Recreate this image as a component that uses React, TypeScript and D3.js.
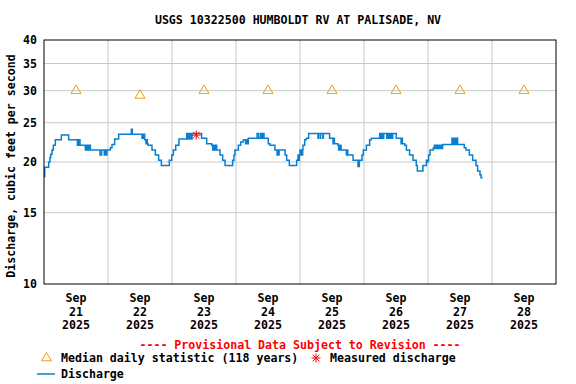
import React from "react";
import * as d3 from "d3";

// discharge, cfs — step changes as [hour of day, value], one list per day
const sep21 = [
  [0, 18.4], [0.25, 19.4], [1.75, 20.0], [2.25, 20.5], [2.5, 20.9], [3.0, 21.4], [3.5, 22.0],
  [4.25, 22.7], [6.5, 23.3], [9.25, 22.7], [12.5, 22.0], [12.75, 22.7], [13.0, 22.0],
  [13.25, 22.7], [13.5, 22.0], [15.5, 21.4], [15.75, 22.0], [16.0, 21.4], [16.25, 22.0],
  [16.75, 21.4], [17.0, 22.0], [17.4, 21.4], [21.0, 20.8], [21.6, 21.4], [22.6, 20.8],
  [23.1, 21.4], [23.3, 20.8], [23.6, 21.4],
];
const sep22 = [
  [0.9, 21.7], [1.5, 22.1], [2.5, 22.8], [4.0, 23.4], [8.75, 24.1], [9.1, 23.4],
  [12.75, 22.9], [13.0, 23.4], [13.25, 22.9], [13.5, 23.4], [13.75, 22.7], [14.25, 22.2],
  [14.5, 22.7], [14.75, 22.2], [15.0, 22.0], [16.5, 21.4], [17.75, 20.8], [19.0, 20.2],
  [20.0, 19.6], [23.0, 20.2], [23.9, 20.8],
];
const sep23 = [
  [0.5, 21.4], [1.4, 22.0], [2.6, 22.8], [5.5, 23.5], [5.75, 22.8], [5.9, 23.5], [6.1, 22.8],
  [6.25, 23.5], [6.75, 22.8], [7.0, 23.5], [7.25, 22.8], [7.5, 23.5], [11.1, 22.9],
  [13.0, 22.2], [14.9, 22.0], [15.25, 21.4], [15.5, 22.0], [15.75, 21.4], [16.0, 22.0],
  [16.25, 21.4], [16.5, 22.0], [16.75, 21.4], [18.0, 20.8], [19.0, 20.2], [19.9, 19.6],
  [22.75, 20.2], [23.25, 20.8], [23.6, 21.4],
];
const sep24 = [
  [0.9, 22.0], [1.75, 22.4], [2.75, 22.7], [3.6, 22.2], [3.85, 22.7], [4.1, 22.2],
  [4.6, 22.9], [7.9, 23.5], [8.5, 22.9], [9.25, 23.5], [9.75, 22.9], [10.0, 23.5],
  [10.5, 22.9], [12.1, 22.2], [12.75, 22.0], [14.6, 21.4], [15.4, 20.8], [15.65, 21.4],
  [15.9, 20.8], [16.15, 21.4], [18.4, 20.8], [19.0, 20.2], [20.0, 19.6], [22.75, 20.2],
  [23.25, 20.8], [23.5, 20.2], [23.75, 20.8],
];
const sep25 = [
  [0.0, 21.4], [0.25, 20.8], [0.5, 21.4], [0.75, 20.8], [1.0, 21.4], [1.1, 22.0],
  [1.75, 22.7], [2.4, 22.9], [3.25, 23.5], [6.75, 22.9], [6.9, 23.5], [7.6, 22.9],
  [7.75, 23.5], [8.6, 22.9], [8.75, 23.5], [11.1, 22.9], [12.4, 22.2], [12.65, 22.9],
  [12.9, 22.2], [14.25, 22.0], [14.5, 21.4], [14.75, 22.0], [15.0, 21.4], [15.25, 22.0],
  [15.4, 21.4], [17.4, 20.8], [17.65, 21.4], [17.9, 20.8], [18.6, 20.8], [19.9, 20.2],
  [21.75, 19.5], [22.25, 20.2], [23.25, 20.8], [23.75, 21.4],
];
const sep26 = [
  [0.9, 22.0], [2.1, 22.7], [2.75, 22.9], [5.9, 23.5], [6.15, 22.9], [6.4, 23.5],
  [6.65, 22.9], [6.9, 23.5], [7.15, 22.9], [7.4, 23.5], [8.5, 22.9], [8.75, 23.5],
  [9.0, 22.9], [9.25, 23.5], [9.5, 22.9], [9.75, 23.5], [10.0, 22.9], [10.25, 23.5],
  [10.5, 22.9], [10.75, 23.5], [12.1, 22.9], [13.9, 22.2], [14.15, 22.9], [14.4, 22.2],
  [15.25, 22.0], [15.9, 21.4], [17.1, 20.8], [18.4, 20.2], [19.6, 19.6], [20.0, 19.0],
  [22.1, 19.6], [23.4, 20.2], [23.7, 20.0],
];
const sep27 = [
  [0.0, 20.2], [0.25, 20.8], [0.75, 21.4], [2.0, 21.7], [2.4, 22.0], [2.65, 21.6],
  [2.9, 22.0], [3.15, 21.6], [3.4, 22.0], [3.65, 21.6], [3.9, 22.0], [4.15, 21.6],
  [4.4, 22.0], [4.65, 21.6], [4.9, 22.0], [5.15, 21.6], [5.5, 22.1], [9.0, 22.9],
  [9.25, 22.1], [9.75, 22.9], [10.0, 22.1], [10.25, 22.9], [10.5, 22.1], [10.75, 22.9],
  [11.1, 22.1], [13.6, 21.7], [14.25, 21.4], [15.5, 20.8], [16.75, 20.2], [18.0, 19.6],
  [18.6, 19.0], [19.5, 18.6], [19.9, 18.3], [20.5, 18.3],
];
const days = [sep21, sep22, sep23, sep24, sep25, sep26, sep27];

// median daily statistic (118 years), one per day Sep 21..28
const medianValues = [30.0, 29.2, 30.0, 30.0, 30.0, 30.0, 30.0, 30.0];
// measured discharge: Sep 23, hour, cfs
const measured = [[9.1, 23.3]];

const dayLabels = ["21", "22", "23", "24", "25", "26", "27", "28"];
const yTicks = [10, 15, 20, 25, 30, 35, 40];

const W = 576, H = 384;
const left = 44, right = 556, top = 40, bottom = 284;
const FONT = "'DejaVu Sans Mono', monospace";
const BLUE = "#0a7fd1";
const ORANGE = "#f59b00";
const GRID = "#c8c8c8";

const at = (day: number, hour: number) => new Date(2025, 8, 21 + day, 0, 0, 0, hour * 3600e3);

const x = d3.scaleTime().domain([at(0, 0), at(8, 0)]).range([left, right]);
const y = d3.scaleLog().domain([10, 40]).range([bottom, top]);

const series = days.flatMap((pts, d) => pts.map(([h, v]) => ({ t: at(d, h), v })));

const line = d3.line<{ t: Date; v: number }>()
  .x(d => x(d.t))
  .y(d => y(d.v))
  .curve(d3.curveStepAfter);

const tri = (cx: number, cy: number) =>
  `M${cx},${cy - 5.5}L${cx + 5},${cy + 2.8}L${cx - 5},${cy + 2.8}Z`;

const Star = ({ cx, cy }: { cx: number; cy: number }) => (
  <g stroke="red" strokeWidth={1}>
    <line x1={cx - 4.5} y1={cy} x2={cx + 4.5} y2={cy} />
    <line x1={cx} y1={cy - 4.5} x2={cx} y2={cy + 4.5} />
    <line x1={cx - 3.3} y1={cy - 3.3} x2={cx + 3.3} y2={cy + 3.3} />
    <line x1={cx - 3.3} y1={cy + 3.3} x2={cx + 3.3} y2={cy - 3.3} />
  </g>
);

export default function App() {
  const dayTicks = d3.range(1, 8).map(d => at(d, 0));
  return (
    <svg width={W} height={H} style={{ position: "absolute", left: 0, top: 0, background: "#fff" }}
      fontFamily={FONT} fontWeight="bold" fontSize={11.6}>
      <text x={298} y={24} textAnchor="middle">USGS 10322500 HUMBOLDT RV AT PALISADE, NV</text>

      {yTicks.slice(1, -1).map(v => (
        <line key={v} x1={left} x2={right} y1={y(v)} y2={y(v)} stroke={GRID} />
      ))}
      {dayTicks.map((t, i) => (
        <line key={i} x1={x(t)} x2={x(t)} y1={top} y2={bottom} stroke={GRID} />
      ))}

      <path d={line(series) ?? ""} fill="none" stroke={BLUE} strokeWidth={1.5} />

      {medianValues.map((v, i) => (
        <path key={i} d={tri(x(at(i, 12)), y(v))} fill="none" stroke={ORANGE} strokeWidth={1} />
      ))}
      {measured.map(([h, v], i) => (
        <Star key={i} cx={x(at(2, h))} cy={y(v)} />
      ))}

      <rect x={left} y={top} width={right - left} height={bottom - top} fill="none" stroke="#000" />

      {yTicks.map(v => (
        <text key={v} x={37} y={y(v) + 4} textAnchor="end">{v}</text>
      ))}
      <text transform="translate(15,166) rotate(-90)" textAnchor="middle">
        Discharge, cubic feet per second
      </text>

      {dayLabels.map((d, i) => {
        const cx = x(at(i, 12));
        return (
          <text key={d} textAnchor="middle">
            <tspan x={cx} y={302}>Sep</tspan>
            <tspan x={cx} y={315.5}>{d}</tspan>
            <tspan x={cx} y={329}>2025</tspan>
          </text>
        );
      })}

      <text x={300} y={348.5} textAnchor="middle" fill="red">
        ---- Provisional Data Subject to Revision ----
      </text>

      <path d={tri(46.5, 358)} fill="none" stroke={ORANGE} />
      <text x={61} y={362}>Median daily statistic (118 years)</text>
      <Star cx={316} cy={358} />
      <text x={330} y={362}>Measured discharge</text>
      <line x1={37} x2={55} y1={374} y2={374} stroke={BLUE} strokeWidth={1.5} />
      <text x={61} y={378}>Discharge</text>
    </svg>
  );
}
